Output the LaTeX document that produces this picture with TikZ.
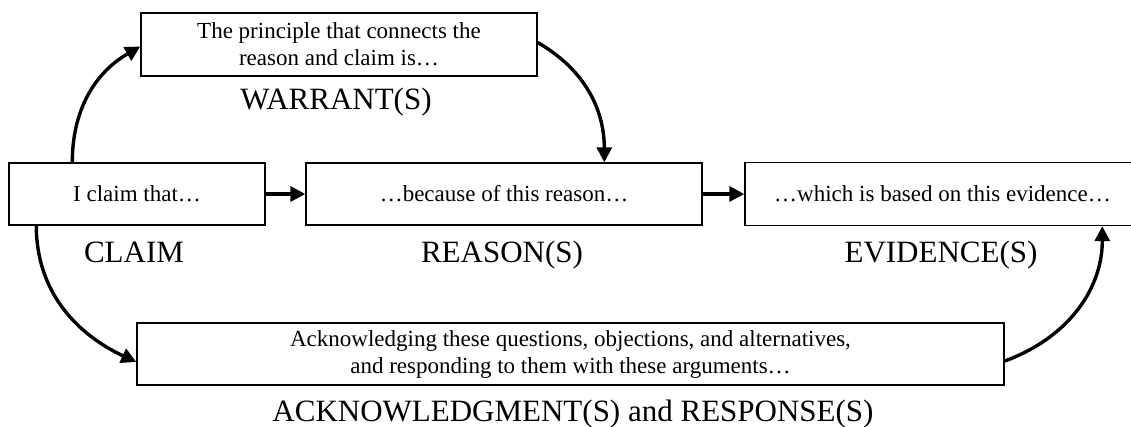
\documentclass[tikz,border=0pt]{standalone}
\usepackage{fontspec}
\setmainfont{Liberation Serif}
\usetikzlibrary{arrows.meta}
\tikzset{
  box/.style={draw, line width=1.4pt, inner sep=0pt, align=center,
    font=\fontsize{23}{27}\selectfont},
  lbl/.style={inner sep=0pt, anchor=base, font=\fontsize{31}{37}\selectfont},
  arr/.style={line width=3.4pt, -{Triangle[length=15pt,width=15pt]}},
}
\begin{document}
\begin{tikzpicture}[x=1pt,y=1pt]
\clip (0,0) rectangle (1131,426);
\fill[white] (0,0) rectangle (1131,426);
\node[box, minimum width=256pt, minimum height=62pt] (claim) at (137,232) {I claim that…};
\node[box, minimum width=396pt, minimum height=62pt] (reason) at (504,232) {…because of this reason…};
\node[box, minimum width=395pt, minimum height=63pt] (evid) at (942.5,232) {…which is based on this evidence…};
\node[box, minimum width=396pt, minimum height=63pt] (warrant) at (339,381.5) {The principle that connects the\\reason and claim is…};
\node[box, minimum width=867pt, minimum height=62pt] (ack) at (570.5,72) {Acknowledging these questions, objections, and alternatives,\\and responding to them with these arguments…};
\node[lbl] (lw) at (336,316) {WARRANT(S)};
\node[lbl] (lc) at (134,164) {CLAIM};
\node[lbl] (lr) at (502,164) {REASON(S)};
\node[lbl] (le) at (941,164) {EVIDENCE(S)};
\node[lbl] (la) at (573,5) {ACKNOWLEDGMENT(S) and RESPONSE(S)};
\draw[arr] ([xshift=64pt]claim.north west) to[out=90,in=210] ([yshift=-2pt]warrant.west);
\draw[arr] ([yshift=2pt]warrant.east) to[out=-30,in=90] ([xshift=299pt]reason.north west);
\draw[arr] (claim.east) -- (reason.west);
\draw[arr] (reason.east) -- (evid.west);
\draw[arr] ([xshift=28pt]claim.south west) to[out=-90,in=155] ([yshift=-8pt]ack.west);
\draw[arr] ([yshift=-7pt]ack.east) to[out=20,in=-90] ([xshift=358pt]evid.south west);
\end{tikzpicture}
\end{document}
